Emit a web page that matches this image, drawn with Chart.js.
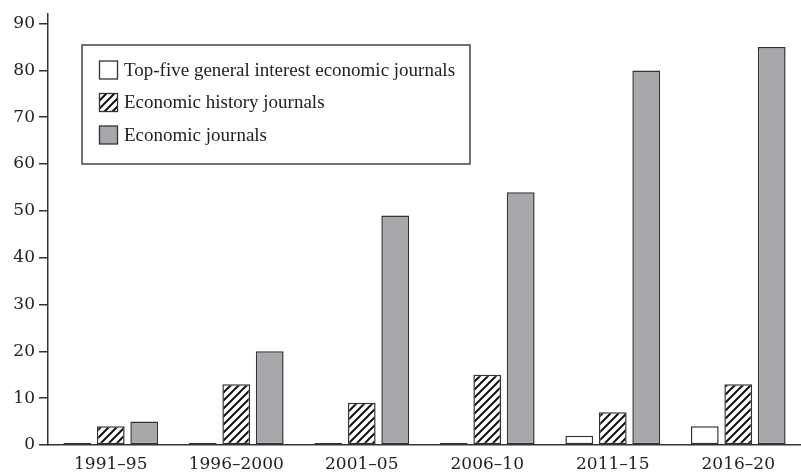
<!DOCTYPE html>
<html>
<head>
<meta charset="utf-8">
<script src="https://cdn.jsdelivr.net/npm/chart.js@4.4.1/dist/chart.umd.min.js"></script>
<style>
  html, body { margin: 0; padding: 0; background: #fff; }
  #wrap { width: 801px; height: 472px; }
</style>
</head>
<body>
<div id="wrap"><canvas id="chart"></canvas></div>
<script>
// Periodos e series
const periods = ['1991\u201395', '1996\u20132000', '2001\u201305', '2006\u201310', '2011\u201315', '2016\u201320'];
const topFive = [0, 0, 0, 0, 2, 4];
const historyJournals = [4, 13, 9, 15, 7, 13];
const economicJournals = [5, 20, 49, 54, 80, 85];
const yTicks = [0, 10, 20, 30, 40, 50, 60, 70, 80, 90];

const FONT = "'Liberation Serif', 'Times New Roman', serif";
const TICK_FONT = "'DejaVu Serif', serif";
const INK = '#333';

// padrao de hachura diagonal
function makeHatch() {
    const c = document.createElement('canvas');
    c.width = 8; c.height = 8;
    const g = c.getContext('2d');
    g.fillStyle = '#fff';
    g.fillRect(0, 0, 8, 8);
    g.strokeStyle = '#111';
    g.lineWidth = 2;
    g.beginPath();
    g.moveTo(-2, 10); g.lineTo(10, -2);
    g.moveTo(-6, 6); g.lineTo(6, -6);
    g.moveTo(2, 14); g.lineTo(14, 2);
    g.stroke();
    return g.createPattern(c, 'repeat');
}
const hatch = makeHatch();

// legenda com moldura, desenhada dentro da area do grafico
const boxedLegend = {
    id: 'boxedLegend',
    afterDraw(chart) {
        const ctx = chart.ctx;
        ctx.save();
        ctx.lineWidth = 1.5;
        ctx.strokeStyle = '#444';
        ctx.strokeRect(82, 45, 388, 119);
        ctx.font = '19px ' + FONT;
        ctx.textBaseline = 'middle';
        chart.data.datasets.forEach((ds, i) => {
            const y = 61 + i * 32.5;
            ctx.fillStyle = ds.backgroundColor;
            ctx.fillRect(99.5, y, 18, 18);
            ctx.lineWidth = 1.3;
            ctx.strokeStyle = INK;
            ctx.strokeRect(99.5, y, 18, 18);
            ctx.fillStyle = '#222';
            ctx.fillText(ds.label, 124, y + 10);
        });
        ctx.restore();
    }
};

const barStyle = {
    borderColor: INK,
    borderWidth: 1.5,
    borderSkipped: false,
    minBarLength: 2,
    barPercentage: 0.83,
    categoryPercentage: 0.8
};

new Chart(document.getElementById('chart'), {
    type: 'bar',
    data: {
        labels: periods,
        datasets: [
            Object.assign({ label: 'Top-five general interest economic journals', data: topFive, backgroundColor: '#ffffff' }, barStyle),
            Object.assign({ label: 'Economic history journals', data: historyJournals, backgroundColor: hatch }, barStyle),
            Object.assign({ label: 'Economic journals', data: economicJournals, backgroundColor: '#a8a8ac' }, barStyle)
        ]
    },
    options: {
        responsive: true,
        maintainAspectRatio: false,
        animation: false,
        layout: { padding: { top: 12, right: -2, left: 0, bottom: 0 } },
        plugins: {
            legend: { display: false },
            tooltip: { enabled: false }
        },
        scales: {
            x: {
                grid: { display: false, drawTicks: false },
                border: { display: true, color: INK, width: 1.5 },
                ticks: { color: '#222', font: { family: TICK_FONT, size: 17 }, padding: 9, maxRotation: 0 },
                afterFit: s => { s.height = 27; }
            },
            y: {
                min: 0,
                max: 92,
                grid: { display: true, drawOnChartArea: false, drawTicks: true, tickLength: 9, color: INK, lineWidth: 1.5 },
                border: { display: true, color: INK, width: 1.5 },
                ticks: { color: '#222', font: { family: TICK_FONT, size: 17 }, padding: 4 },
                afterBuildTicks: s => { s.ticks = yTicks.map(v => ({ value: v })); },
                afterFit: s => { s.width = 48; }
            }
        }
    },
    plugins: [boxedLegend]
});
</script>
</body>
</html>
